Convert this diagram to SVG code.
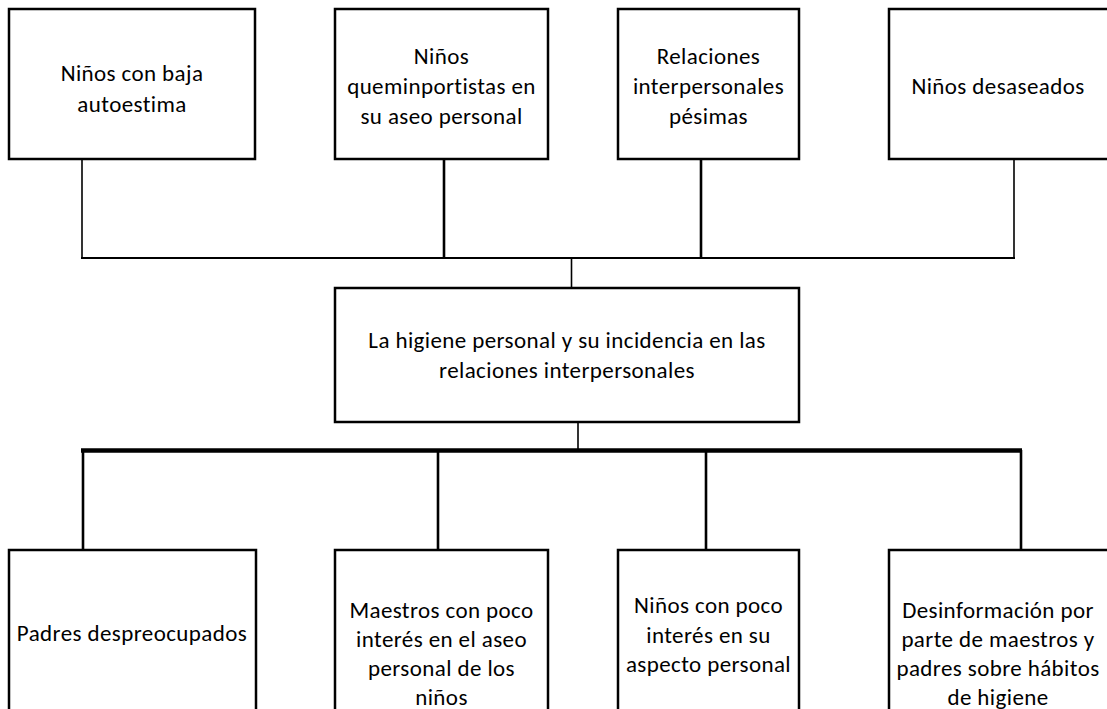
<svg xmlns="http://www.w3.org/2000/svg" width="1107" height="709" viewBox="0 0 1107 709">
<style>
.box{fill:#fff;stroke:#000;stroke-width:2.5}
.t{font-family:Carlito,Lato,"Liberation Sans",sans-serif;font-size:23px;letter-spacing:0.4px;fill:#000;text-anchor:middle}
.c{stroke:#000;fill:none}
.thin{stroke-width:1.6}
.med{stroke-width:2.6}
.thick{stroke-width:4.5}
</style>
<rect width="1107" height="709" fill="#fff"/>
<g id="connectors">
<line class="c thin" x1="82" y1="159" x2="82" y2="258"/>
<line class="c med" x1="444" y1="159" x2="444" y2="258"/>
<line class="c med" x1="701" y1="159" x2="701" y2="258"/>
<line class="c thin" x1="1014" y1="159" x2="1014" y2="258"/>
<line class="c" stroke-width="2" x1="81" y1="258" x2="1015" y2="258"/>
<line class="c thin" x1="571.5" y1="258" x2="571.5" y2="288"/>
<line class="c thin" x1="578" y1="422" x2="578" y2="450"/>
<line class="c thick" x1="81" y1="450.5" x2="1022" y2="450.5"/>
<line class="c med" x1="83" y1="450" x2="83" y2="550"/>
<line class="c med" x1="438" y1="450" x2="438" y2="550"/>
<line class="c med" x1="706" y1="450" x2="706" y2="550"/>
<line class="c med" x1="1021" y1="450" x2="1021" y2="550"/>
</g>
<g id="n1">
<rect class="box" x="9" y="9" width="246" height="150"/>
<text class="t" x="132" y="81">Niños con baja</text>
<text class="t" x="132" y="112">autoestima</text>
</g>
<g id="n2">
<rect class="box" x="335" y="9" width="213" height="150"/>
<text class="t" x="441.5" y="64">Niños</text>
<text class="t" x="441.5" y="94">queminportistas en</text>
<text class="t" x="441.5" y="124">su aseo personal</text>
</g>
<g id="n3">
<rect class="box" x="618" y="9" width="181" height="150"/>
<text class="t" x="708.5" y="64">Relaciones</text>
<text class="t" x="708.5" y="94">interpersonales</text>
<text class="t" x="708.5" y="124">pésimas</text>
</g>
<g id="n4">
<rect class="box" x="889" y="9" width="225" height="150"/>
<text class="t" x="998" y="94">Niños desaseados</text>
</g>
<g id="center">
<rect class="box" x="335" y="288" width="464" height="134"/>
<text class="t" x="567" y="348">La higiene personal y su incidencia en las</text>
<text class="t" x="567" y="378">relaciones interpersonales</text>
</g>
<g id="b1">
<rect class="box" x="9" y="550" width="247" height="170"/>
<text class="t" x="132" y="641">Padres despreocupados</text>
</g>
<g id="b2">
<rect class="box" x="335" y="550" width="213" height="170"/>
<text class="t" x="441.5" y="618">Maestros con poco</text>
<text class="t" x="441.5" y="647">interés en el aseo</text>
<text class="t" x="441.5" y="676">personal de los</text>
<text class="t" x="441.5" y="705">niños</text>
</g>
<g id="b3">
<rect class="box" x="618" y="550" width="181" height="170"/>
<text class="t" x="708.5" y="613">Niños con poco</text>
<text class="t" x="708.5" y="643">interés en su</text>
<text class="t" x="708.5" y="672">aspecto personal</text>
</g>
<g id="b4">
<rect class="box" x="889" y="550" width="225" height="170"/>
<text class="t" x="998" y="618">Desinformación por</text>
<text class="t" x="998" y="647">parte de maestros y</text>
<text class="t" x="998" y="676">padres sobre hábitos</text>
<text class="t" x="998" y="705">de higiene</text>
</g>
</svg>
